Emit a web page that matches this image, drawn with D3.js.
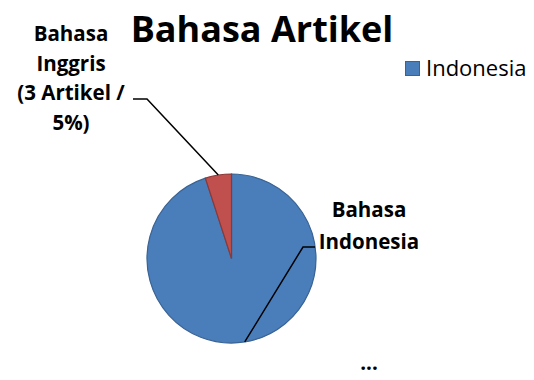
<!DOCTYPE html>
<html>
<head>
<meta charset="utf-8">
<script src="https://d3js.org/d3.v7.min.js"></script>
<style>
  body { margin: 0; background: #fff; }
  svg { display: block; }
  text { font-family: "Open Sans", "Noto Sans", sans-serif; fill: #000; }
</style>
</head>
<body>
<script>
// data
var categories = ["Indonesia", "Inggris"];
var values = [57, 3];
var legendItems = ["Indonesia"];
var sliceLabels = [
  ["Bahasa", "Indonesia", "", "", "..."],
  ["Bahasa", "Inggris", "(3 Artikel /", "5%)"]
];

var W = 534, H = 380;
var cx = 231.5, cy = 258.5, r = 84.5;

var svg = d3.select("body").append("svg")
  .attr("width", W)
  .attr("height", H);

var color = d3.scaleOrdinal().domain(categories).range(["#4a7ebb", "#c0504d"]);
var stroke = d3.scaleOrdinal().domain(categories).range(["#3a6393", "#8c3836"]);

var pie = d3.pie().sort(null).value(function(d) { return d.value; });
var data = categories.map(function(c, i) { return {name: c, value: values[i]}; });
var arcs = pie(data);

var arc = d3.arc().innerRadius(0).outerRadius(r);
var edge = d3.arc().innerRadius(r).outerRadius(r);

var g = svg.append("g").attr("transform", "translate(" + cx + "," + cy + ")");

g.selectAll("path.slice")
  .data(arcs)
  .enter().append("path")
  .attr("class", "slice")
  .attr("d", arc)
  .attr("fill", function(d) { return color(d.data.name); })
  .attr("stroke", function(d) { return stroke(d.data.name); })
  .attr("stroke-width", 1.2);

// title
svg.append("text")
  .attr("x", 262)
  .attr("y", 42)
  .attr("text-anchor", "middle")
  .style("font-size", "36px")
  .style("font-weight", "bold")
  .text("Bahasa Artikel");

// legend
var legend = svg.append("g").attr("transform", "translate(405,61)");
legendItems.forEach(function(name, i) {
  legend.append("rect")
    .attr("x", 0.5).attr("y", i * 26 + 0.5)
    .attr("width", 14).attr("height", 14)
    .attr("fill", color(name))
    .attr("stroke", stroke(name));
  legend.append("text")
    .attr("x", 21).attr("y", i * 26 + 15)
    .style("font-size", "22px")
    .text(name);
});

// data labels with leader lines
var labelPos = [
  {x: 369, y: 217, lineH: 31.5, lineX: 303, lineY: 247, startX: 315},
  {x: 71, y: 41, lineH: 29.7, lineX: 147, lineY: 99, startX: 133}
];

arcs.forEach(function(d, i) {
  var p = labelPos[i];
  var end = edge.centroid(d);
  var pts = [
    [p.startX, p.lineY],
    [p.lineX, p.lineY],
    [end[0] + cx, end[1] + cy]
  ];
  svg.append("path")
    .attr("d", d3.line()(pts))
    .attr("fill", "none")
    .attr("stroke", "#000")
    .attr("stroke-width", 1.5);

  var t = svg.append("text")
    .attr("text-anchor", "middle")
    .style("font-size", "20.5px")
    .style("font-weight", "bold");
  sliceLabels[i].forEach(function(line, k) {
    if (line === "") return;
    var y = p.y + k * p.lineH;
    if (line === "...") y = 370;
    t.append("tspan").attr("x", p.x).attr("y", y).text(line);
  });
});
</script>
</body>
</html>
